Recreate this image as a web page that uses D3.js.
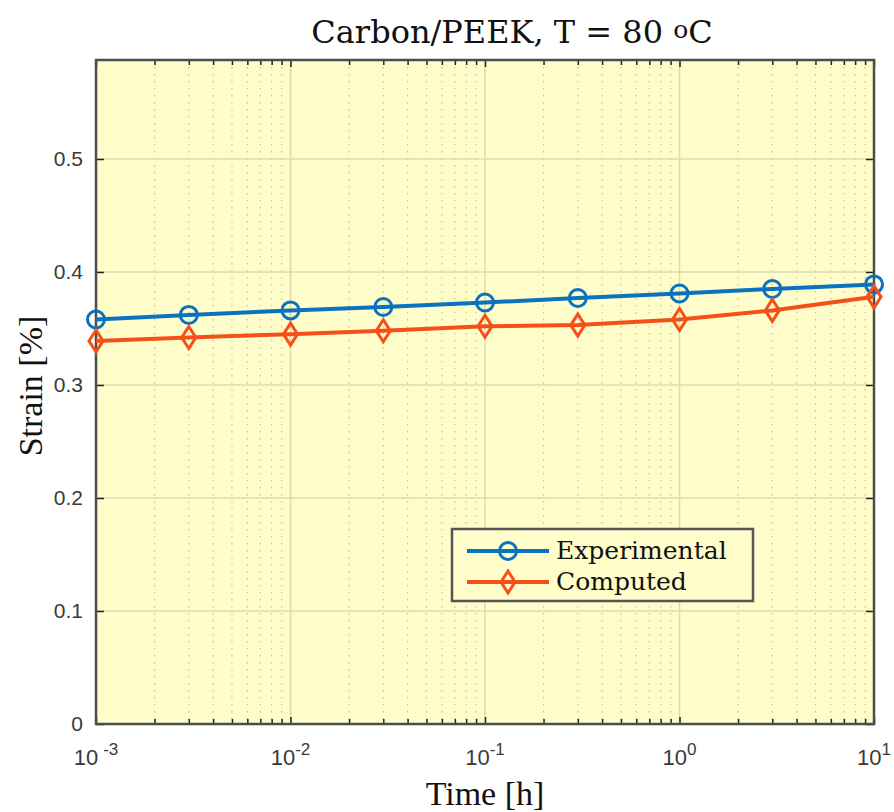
<!DOCTYPE html>
<html>
<head>
<meta charset="utf-8">
<script src="https://cdn.jsdelivr.net/npm/d3@7"></script>
<style>
body { margin: 0; background: #fff; }
.tick text { font-family: "Liberation Sans", Arial, sans-serif; }
</style>
</head>
<body>
<div id="chart"></div>
<script>
// data
var times = [0.001, 0.003, 0.01, 0.03, 0.1, 0.3, 1, 3, 10];
var experimental = [0.358, 0.362, 0.366, 0.369, 0.373, 0.377, 0.381, 0.385, 0.389];
var computed = [0.339, 0.342, 0.345, 0.348, 0.352, 0.353, 0.358, 0.366, 0.378];
var yTicks = [0, 0.1, 0.2, 0.3, 0.4, 0.5];
var xDecades = [-3, -2, -1, 0, 1];
var seriesNames = ["Experimental", "Computed"];

var W = 894, H = 812;
var margin = {top: 60, right: 20, bottom: 88, left: 96};
var width = 874 - margin.left, height = 724 - margin.top;
var serif = "'DejaVu Serif', 'Liberation Serif', serif";

var svg = d3.select("#chart").append("svg")
	.attr("width", W)
	.attr("height", H);

var g = svg.append("g")
	.attr("transform", "translate(" + margin.left + "," + margin.top + ")");

var x = d3.scaleLog().domain([1e-3, 10]).range([0, width]);
var y = d3.scaleLinear().domain([0, 0.5876]).range([height, 0]);

// background
g.append("rect")
	.attr("width", width)
	.attr("height", height)
	.style("fill", "#fffdc9");

// minor x values
var minor = [];
xDecades.slice(0, -1).forEach(function(p){
	for (var k = 2; k <= 9; k++) minor.push(k * Math.pow(10, p));
});
var major = xDecades.map(function(p){ return Math.pow(10, p); });

// grid
g.selectAll(".minor-grid").data(minor).enter()
	.append("line")
	.attr("class", "minor-grid")
	.attr("x1", function(d){ return x(d); })
	.attr("x2", function(d){ return x(d); })
	.attr("y1", 0).attr("y2", height)
	.style("stroke", "#c4c2a0")
	.style("stroke-width", 1.2)
	.style("stroke-dasharray", "1.5,5.5");

g.selectAll(".major-grid").data(major).enter()
	.append("line")
	.attr("class", "major-grid")
	.attr("x1", function(d){ return x(d); })
	.attr("x2", function(d){ return x(d); })
	.attr("y1", 0).attr("y2", height)
	.style("stroke", "#dedbb0")
	.style("stroke-width", 1.5);

g.selectAll(".y-grid").data(yTicks).enter()
	.append("line")
	.attr("class", "y-grid")
	.attr("x1", 0).attr("x2", width)
	.attr("y1", function(d){ return y(d); })
	.attr("y2", function(d){ return y(d); })
	.style("stroke", "#dedbb0")
	.style("stroke-width", 1.5);

// axes (MATLAB style, ticks inward)
var axisColor = "#4d4d4d";
function tickLen(d){ return major.indexOf(d) >= 0 ? 7 : 5; }
var allX = major.concat(minor);

var xb = g.append("g")
	.attr("transform", "translate(0," + height + ")")
	.call(d3.axisBottom(x).tickValues(allX).tickSize(0).tickFormat(""));
xb.select(".domain").remove();
xb.selectAll(".tick line")
	.attr("y2", function(d){ return -tickLen(d); })
	.style("stroke", "#222").style("stroke-width", 1.5);

var xt = g.append("g")
	.call(d3.axisTop(x).tickValues(allX).tickSize(0).tickFormat(""));
xt.select(".domain").remove();
xt.selectAll(".tick line")
	.attr("y2", function(d){ return tickLen(d); })
	.style("stroke", "#222").style("stroke-width", 1.5);

// x tick labels 10^p
var xl = g.selectAll(".xlab").data(xDecades).enter()
	.append("text")
	.attr("class", "xlab")
	.attr("x", function(p){ return x(Math.pow(10, p)); })
	.attr("y", height + 41)
	.attr("text-anchor", "middle")
	.style("font-family", "'Liberation Sans', Arial, sans-serif")
	.style("font-size", "22px")
	.style("fill", "#3a3a3a");
xl.append("tspan").text("10");
xl.append("tspan")
	.attr("dy", -10)
	.attr("dx", function(p){ return p === -3 ? 5 : 0; })
	.style("font-size", "17px")
	.text(function(p){ return p < 0 ? "-" + Math.abs(p) : p; });

var yl = g.append("g")
	.call(d3.axisLeft(y).tickValues(yTicks).tickSize(0).tickPadding(13)
		.tickFormat(function(d){ return d === 0 ? "0" : d3.format(".1f")(d); }));
yl.select(".domain").remove();
yl.selectAll(".tick line")
	.attr("x2", 8).style("stroke", "#222").style("stroke-width", 1.5);
yl.selectAll(".tick text")
	.style("font-size", "21px")
	.style("fill", "#3a3a3a");

var yr = g.append("g")
	.attr("transform", "translate(" + width + ",0)")
	.call(d3.axisRight(y).tickValues(yTicks).tickSize(0).tickFormat(""));
yr.select(".domain").remove();
yr.selectAll(".tick line")
	.attr("x2", -8).style("stroke", "#222").style("stroke-width", 1.5);

// frame
g.append("rect")
	.attr("width", width)
	.attr("height", height)
	.style("fill", "none")
	.style("stroke", axisColor)
	.style("stroke-width", 2.5);

// series
var colors = ["#0a72be", "#f5501a"];
var seriesData = [experimental, computed];

var line = d3.line()
	.x(function(d){ return x(d.t); })
	.y(function(d){ return y(d.v); });

function drawMarker(sel, i){
	if (i === 0) {
		sel.append("circle").attr("r", 8.5);
	} else {
		sel.append("path").attr("d", "M0,-11 L7,0 L0,11 L-7,0 Z");
	}
	sel.style("fill", "none")
		.style("stroke", colors[i])
		.style("stroke-width", 3);
}

seriesData.forEach(function(vals, i){
	var pts = vals.map(function(v, j){ return {t: times[j], v: v}; });
	g.append("path")
		.datum(pts)
		.attr("d", line)
		.style("fill", "none")
		.style("stroke", colors[i])
		.style("stroke-width", 4);
	g.selectAll(".m" + i).data(pts).enter()
		.append("g")
		.attr("class", "m" + i)
		.attr("transform", function(d){ return "translate(" + x(d.t) + "," + y(d.v) + ")"; })
		.each(function(){ drawMarker(d3.select(this), i); });
});

// legend
var lg = svg.append("g").attr("transform", "translate(452,529)");
lg.append("rect")
	.attr("width", 301).attr("height", 72)
	.style("fill", "#fffdc9")
	.style("stroke", "#555")
	.style("stroke-width", 2.5);
seriesNames.forEach(function(name, i){
	var cy = 22 + i * 31;
	lg.append("line")
		.attr("x1", 15).attr("x2", 97)
		.attr("y1", cy).attr("y2", cy)
		.style("stroke", colors[i]).style("stroke-width", 4);
	var m = lg.append("g").attr("transform", "translate(56," + cy + ")");
	drawMarker(m, i);
	lg.append("text")
		.attr("x", 104).attr("y", cy + 8)
		.style("font-family", serif)
		.style("font-size", "25px")
		.style("fill", "#111")
		.text(name);
});

// titles
var title = svg.append("text")
	.attr("x", 512).attr("y", 43)
	.attr("text-anchor", "middle")
	.style("font-family", serif)
	.style("font-size", "32px")
	.style("fill", "#111");
title.append("tspan").text("Carbon/PEEK, T = 80 ");
title.append("tspan").attr("dy", -5).style("font-size", "25px").text("o");
title.append("tspan").attr("dy", 5).text("C");

svg.append("text")
	.attr("x", 485).attr("y", 805)
	.attr("text-anchor", "middle")
	.style("font-family", "'Liberation Serif', 'Times New Roman', serif")
	.style("font-size", "34px")
	.style("fill", "#111")
	.text("Time [h]");

svg.append("text")
	.attr("transform", "translate(42,386) rotate(-90)")
	.attr("text-anchor", "middle")
	.style("font-family", "'Liberation Serif', 'Times New Roman', serif")
	.style("font-size", "34px")
	.style("fill", "#111")
	.text("Strain [%]");
</script>
</body>
</html>
